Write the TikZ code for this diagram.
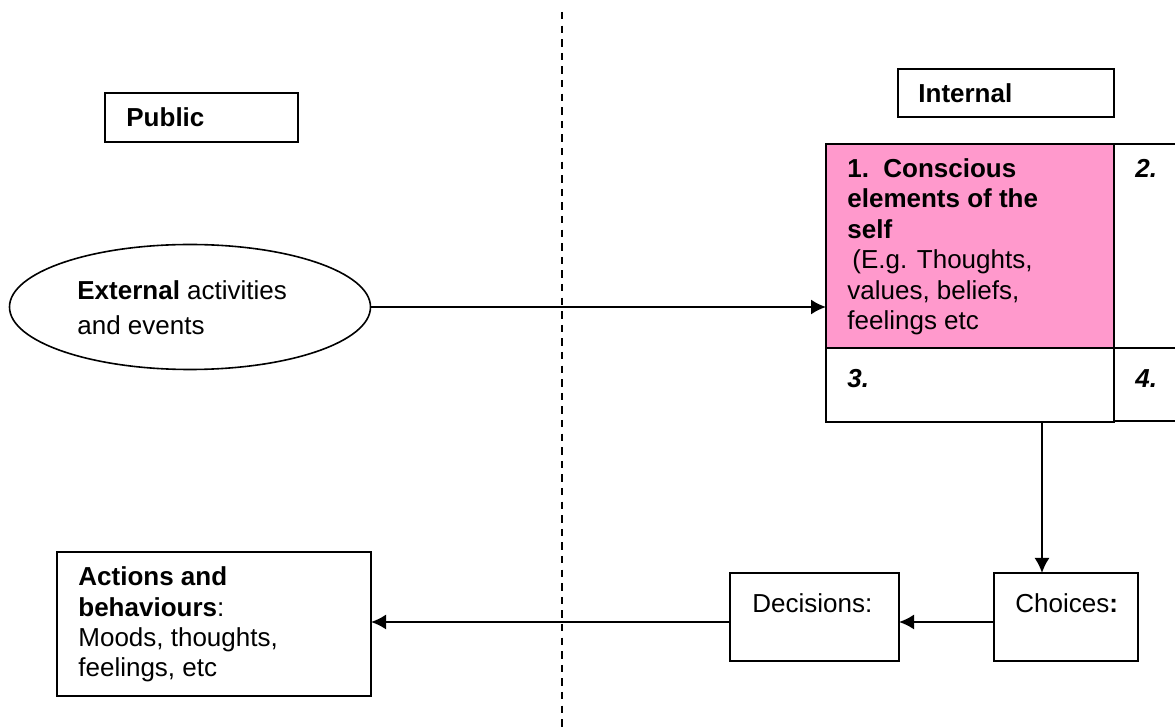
\documentclass[tikz,border=0pt]{standalone}
\usepackage{fontspec}
\setmainfont{Liberation Sans}
\usetikzlibrary{arrows.meta,shapes.geometric}
\definecolor{pinkfill}{RGB}{255,153,204}
\begin{document}
\begin{tikzpicture}[x=0.5pt,y=-0.5pt,
  box/.style={draw, line width=0.95pt, inner sep=0pt, outer sep=0pt, anchor=north west},
  lbl/.style={anchor=base west, inner sep=0pt, align=left, font=\fontsize{13}{15.25}\selectfont},
  conn/.style={line width=0.9pt, -{Latex[length=7.5pt,width=7.5pt]}},
  divider/.style={line width=0.75pt, dash pattern=on 3.7pt off 3.1pt}]
\useasboundingbox (0,0) rectangle (1175,727);
% divider
\coordinate (dtop) at (562,12);
\coordinate (dbot) at (562,727);
\draw[divider] (dtop) -- (dbot);
% header boxes
\node[box, minimum width=96.5pt, minimum height=24.5pt] (pub) at (105,93) {};
\node[lbl, font=\fontsize{13}{15.25}\selectfont\bfseries] (publbl) at (126,127) {Public};
\node[box, minimum width=108pt, minimum height=24pt] (int) at (898,69) {};
\node[lbl, font=\fontsize{13}{15.25}\selectfont\bfseries] (intlbl) at (918,103) {Internal};
% grid of four cells
\node[box, fill=pinkfill, minimum width=144pt, minimum height=102pt] (c1) at (826,144) {};
\node[box, minimum width=40pt, minimum height=102pt] (c2) at (1114,144) {};
\node[box, minimum width=144pt, minimum height=37pt] (c3) at (826,348) {};
\node[box, minimum width=40pt, minimum height=36.5pt] (c4) at (1114,348) {};
\node[lbl] (c1lbl) at (847,330) {\textbf{1.\hspace{0.55em}Conscious}\\\textbf{elements of the}\\\textbf{self}\\\hspace{2.5pt}(E.g. Thoughts,\\values, beliefs,\\feelings etc};
\node[lbl, font=\fontsize{13}{15.25}\selectfont\bfseries\itshape] (c2lbl) at (1135,178) {2.};
\node[lbl, font=\fontsize{13}{15.25}\selectfont\bfseries\itshape] (c3lbl) at (847,388) {3.};
\node[lbl, font=\fontsize{13}{15.25}\selectfont\bfseries\itshape] (c4lbl) at (1135,388) {4.};
% ellipse
\node[draw, ellipse, line width=0.8pt, inner sep=0pt, minimum width=180.5pt, minimum height=62.5pt] (ext) at (190,307) {};
\node[lbl, font=\fontsize{13}{17.5}\selectfont] (extlbl) at (77,335) {\textbf{External} activities\\and events};
% bottom row
\node[box, minimum width=72pt, minimum height=44pt] (cho) at (994,573) {};
\node[lbl] (cholbl) at (1015,613) {Choices\textbf{:}};
\node[box, minimum width=84.5pt, minimum height=44pt] (dec) at (730,573) {};
\node[lbl] (declbl) at (752,613) {Decisions:};
\node[box, minimum width=157pt, minimum height=72pt] (act) at (57,552) {};
\node[lbl] (actlbl) at (78,677) {\textbf{Actions and}\\\textbf{behaviours}:\\Moods, thoughts,\\feelings, etc};
% connectors
\coordinate (vx) at (1042,0);
\coordinate (hy) at (0,622);
\draw[conn] (ext.east) -- (ext.east -| c1.west);
\draw[conn] (vx |- c3.south) -- (vx |- cho.north);
\draw[conn] (cho.west |- hy) -- (dec.east |- hy);
\draw[conn] (dec.west |- hy) -- (act.east |- hy);
\end{tikzpicture}
\end{document}
